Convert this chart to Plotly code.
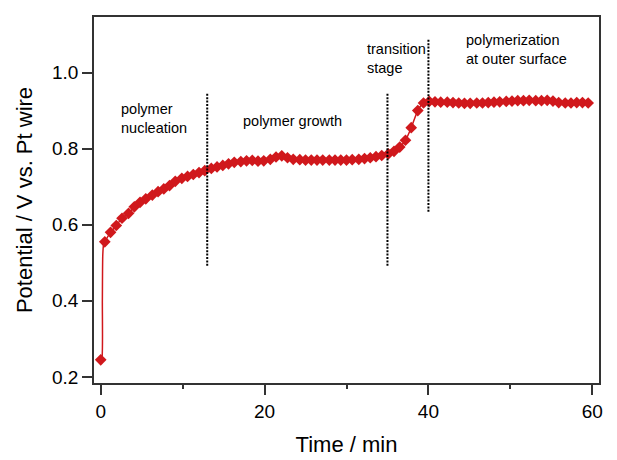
import plotly.graph_objects as go

# ---- data ----
time_min = [0.0, 0.5, 1.2, 1.9, 2.6, 3.4, 4.1, 4.8, 5.5, 6.3, 7.0, 7.7, 8.4, 9.1, 9.9,
            10.6, 11.3, 12.0, 12.7, 13.5, 14.2, 14.9, 15.6, 16.3, 17.1, 17.8, 18.5,
            19.2, 19.9, 20.7, 21.4, 22.1, 22.8, 23.5, 24.3, 25.0, 25.7, 26.4, 27.1,
            27.9, 28.6, 29.3, 30.0, 30.7, 31.5, 32.2, 32.9, 33.6, 34.3, 35.1, 35.8,
            36.5, 37.2, 37.9, 38.7, 39.4, 40.1, 40.8, 41.5, 42.3, 43.0, 43.7, 44.4,
            45.1, 45.9, 46.6, 47.3, 48.0, 48.7, 49.5, 50.2, 50.9, 51.6, 52.3, 53.1,
            53.8, 54.5, 55.2, 55.9, 56.7, 57.4, 58.1, 58.8, 59.5]
potential_V = [0.245, 0.555, 0.580, 0.598, 0.617, 0.630, 0.647, 0.659, 0.668, 0.678, 0.687,
               0.694, 0.703, 0.714, 0.722, 0.727, 0.732, 0.737, 0.742, 0.748, 0.752,
               0.756, 0.760, 0.764, 0.766, 0.768, 0.769, 0.767, 0.768, 0.772, 0.778,
               0.781, 0.776, 0.772, 0.771, 0.770, 0.770, 0.770, 0.770, 0.770, 0.770,
               0.770, 0.770, 0.771, 0.772, 0.774, 0.776, 0.779, 0.782, 0.786, 0.793,
               0.804, 0.822, 0.855, 0.900, 0.920, 0.924, 0.923, 0.922, 0.922, 0.921,
               0.920, 0.919, 0.919, 0.920, 0.920, 0.921, 0.922, 0.923, 0.924, 0.925,
               0.926, 0.926, 0.927, 0.926, 0.926, 0.927, 0.925, 0.921, 0.920, 0.920,
               0.921, 0.921, 0.920]

# initial potential jump (line only, between first two recorded points)
rise_time = [0.0, 0.15, 0.2, 0.25, 0.35, 0.5]
rise_V = [0.245, 0.25, 0.40, 0.52, 0.548, 0.555]

# stage boundaries (dotted lines)
boundary_time = [13, 35, 40]
boundary_low = [0.492, 0.492, 0.634]
boundary_high = [0.945, 0.945, 1.087]

# stage labels
stage_labels = ["polymer<br>nucleation", "polymer growth", "transition<br>stage",
                "polymerization<br>at outer surface"]
label_time = [2.2, 17.1, 32.2, 44.4]
label_V = [0.880, 0.873, 1.038, 1.061]

x_ticks = [0, 20, 40, 60]
x_minor_ticks = [10, 30, 50]
y_ticks = [0.2, 0.4, 0.6, 0.8, 1.0]

RED = "#d0181c"
FONT = "Liberation Sans, Arial, sans-serif"

fig = go.Figure()

line_x = rise_time + time_min[2:]
line_y = rise_V + potential_V[2:]
fig.add_trace(go.Scatter(x=line_x, y=line_y, mode="lines",
                         line=dict(color=RED, width=1.5, shape="spline", smoothing=0.6),
                         hoverinfo="skip", showlegend=False))
fig.add_trace(go.Scatter(x=time_min, y=potential_V, mode="markers",
                         marker=dict(symbol="diamond", size=9, color=RED,
                                     line=dict(width=0)),
                         showlegend=False))

for t, lo, hi in zip(boundary_time, boundary_low, boundary_high):
    fig.add_shape(type="line", x0=t, x1=t, y0=lo, y1=hi, xref="x", yref="y",
                  line=dict(color="black", width=2, dash="2px,1.4px"))

for txt, t, v in zip(stage_labels, label_time, label_V):
    fig.add_annotation(x=t, y=v, text=txt, showarrow=False, xanchor="left",
                       yanchor="middle", align="left",
                       font=dict(family=FONT, size=14.5, color="black"))

# the page body adds an 8 px offset, so the figure is 8 px smaller on each side
fig.update_layout(
    width=609, height=452,
    margin=dict(l=86, r=18, t=7, b=67),
    paper_bgcolor="white", plot_bgcolor="white",
    font=dict(family=FONT, color="black"),
    xaxis=dict(range=[-0.82, 60.82], tickvals=x_ticks, ticks="outside", ticklen=10,
               tickwidth=1.5, tickcolor="#333", showgrid=False, zeroline=False,
               showline=True, linecolor="#333", linewidth=1.5, mirror=True,
               tickfont=dict(family=FONT, size=19),
               minor=dict(tickvals=x_minor_ticks, ticks="outside", ticklen=4,
                          tickwidth=1.5, tickcolor="#333"),
               title=dict(text="Time / min", font=dict(family=FONT, size=22),
                          standoff=16)),
    yaxis=dict(range=[0.184, 1.146], tickvals=y_ticks, tickformat=".1f",
               ticks="outside", ticklen=10, tickwidth=1.5, tickcolor="#333",
               showgrid=False, zeroline=False, showline=True, linecolor="#333",
               linewidth=1.5, mirror=True, tickfont=dict(family=FONT, size=19),
               title=dict(text="Potential / V vs. Pt wire",
                          font=dict(family=FONT, size=22), standoff=13)),
)

fig.write_html("out.html")
